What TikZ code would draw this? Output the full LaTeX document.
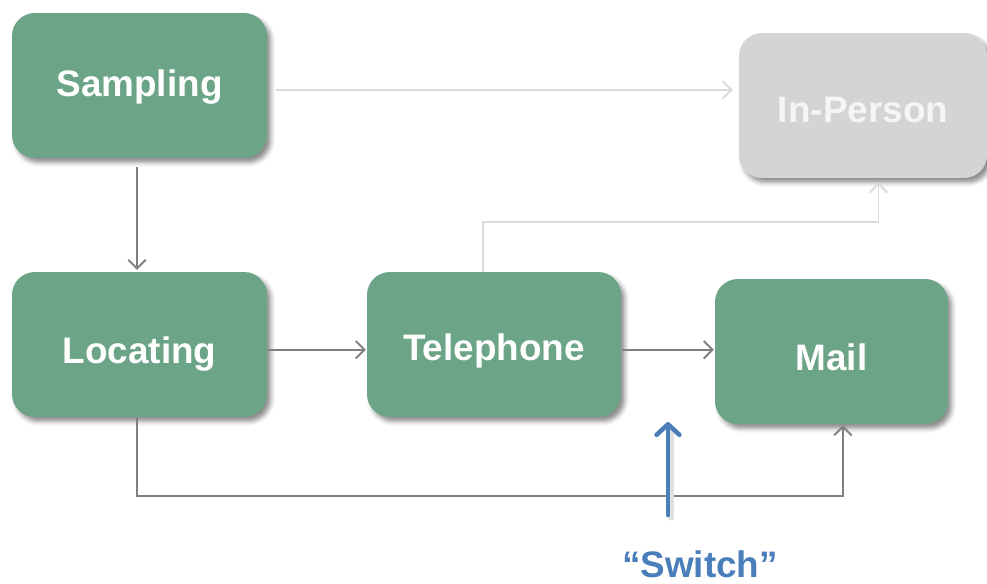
\documentclass[tikz,border=0pt]{standalone}
\usepackage{fontspec}
\setmainfont{Liberation Sans}
\usepackage{xcolor}
\usepackage{tikz}
\usetikzlibrary{arrows.meta,shadows.blur}

\definecolor{boxgreen}{RGB}{108,164,136}
\definecolor{boxgrey}{RGB}{212,212,212}
\definecolor{linegrey}{RGB}{128,128,128}
\definecolor{lightgrey}{RGB}{218,218,218}
\definecolor{switchblue}{RGB}{74,126,187}

% lower a label inside its box without changing the box size
\newcommand{\droptext}[2]{\raisebox{-#1}[\height][\depth]{#2}}

\tikzset{
  stagebox/.style={rectangle, rounded corners=13pt, fill=boxgreen, text=white,
    font=\fontsize{21}{25}\selectfont\bfseries, minimum height=2.9cm,
    blur shadow={shadow xshift=2.2pt, shadow yshift=-2.6pt, shadow blur radius=2.5pt, shadow opacity=45}},
  greybox/.style={stagebox, fill=boxgrey, text=white!96!black},
  darkline/.style={linegrey, line width=1.1pt, -{Straight Barb[length=5pt,width=10pt]}},
  lightline/.style={lightgrey, line width=1.1pt, -{Straight Barb[length=5pt,width=10pt]}},
}

\begin{document}
\begin{tikzpicture}[x=0.02cm, y=-0.02cm]
    \useasboundingbox (0,0) rectangle (987,583);

    % the stages
    \node[stagebox, minimum width=5.1cm]  (samp) at (139.5, 85.5)  {\droptext{1pt}{Sampling}};
    \node[greybox,  minimum width=4.96cm] (inp)  at (863, 105.5)   {\droptext{2.3pt}{In-Person}};
    \node[stagebox, minimum width=5.1cm]  (loc)  at (139.5, 344.5) {\droptext{5.5pt}{Locating}};
    \node[stagebox, minimum width=5.08cm] (tel)  at (494, 344.5)   {\droptext{3.4pt}{Telephone}};
    \node[stagebox, minimum width=4.66cm] (mail) at (831.5, 351.5) {\droptext{3.4pt}{Mail}};

    % faded route to in-person
    \draw[lightline, shorten <=5pt, shorten >=3.4pt] ([yshift=-2.5pt]samp.east) -- ([yshift=-2.5pt]samp.east -| inp.west);
    \draw[lightline, shorten >=2.3pt] ([xshift=-6.2pt]tel.north) -- ++(0,-50) -| ([xshift=8.8pt]inp.south);

    % main route
    \draw[darkline, shorten <=5pt, shorten >=1pt] ([xshift=-1.4pt]samp.south) -- ([xshift=-1.4pt]loc.north);
    \draw[darkline, shorten <=0.5pt, shorten >=0.5pt] ([yshift=-3pt]loc.east) -- ([yshift=-3pt]tel.west);
    \draw[darkline, shorten <=0.5pt, shorten >=0.5pt] ([yshift=-3pt]tel.east) -- ([yshift=-3pt]tel.east -| mail.west);
    \draw[darkline, shorten >=0.5pt] ([xshift=-1.4pt]loc.south) -- ++(0,79) -| ([xshift=6.5pt]mail.south);

    % switch point
    \node[text=switchblue, font=\fontsize{21}{25}\selectfont\bfseries] (sw) at (700, 564) {“Switch”};
    \coordinate (swbot) at (668, 515);
    \draw[black!12, line width=3pt, line cap=round] ([shift={(3,3)}]swbot) -- ++(0,-86);
    \draw[switchblue, line width=2.6pt, line cap=round,
          -{Straight Barb[length=6pt,width=13pt,round]}] (swbot) -- ++(0,-93);

\end{tikzpicture}
\end{document}
